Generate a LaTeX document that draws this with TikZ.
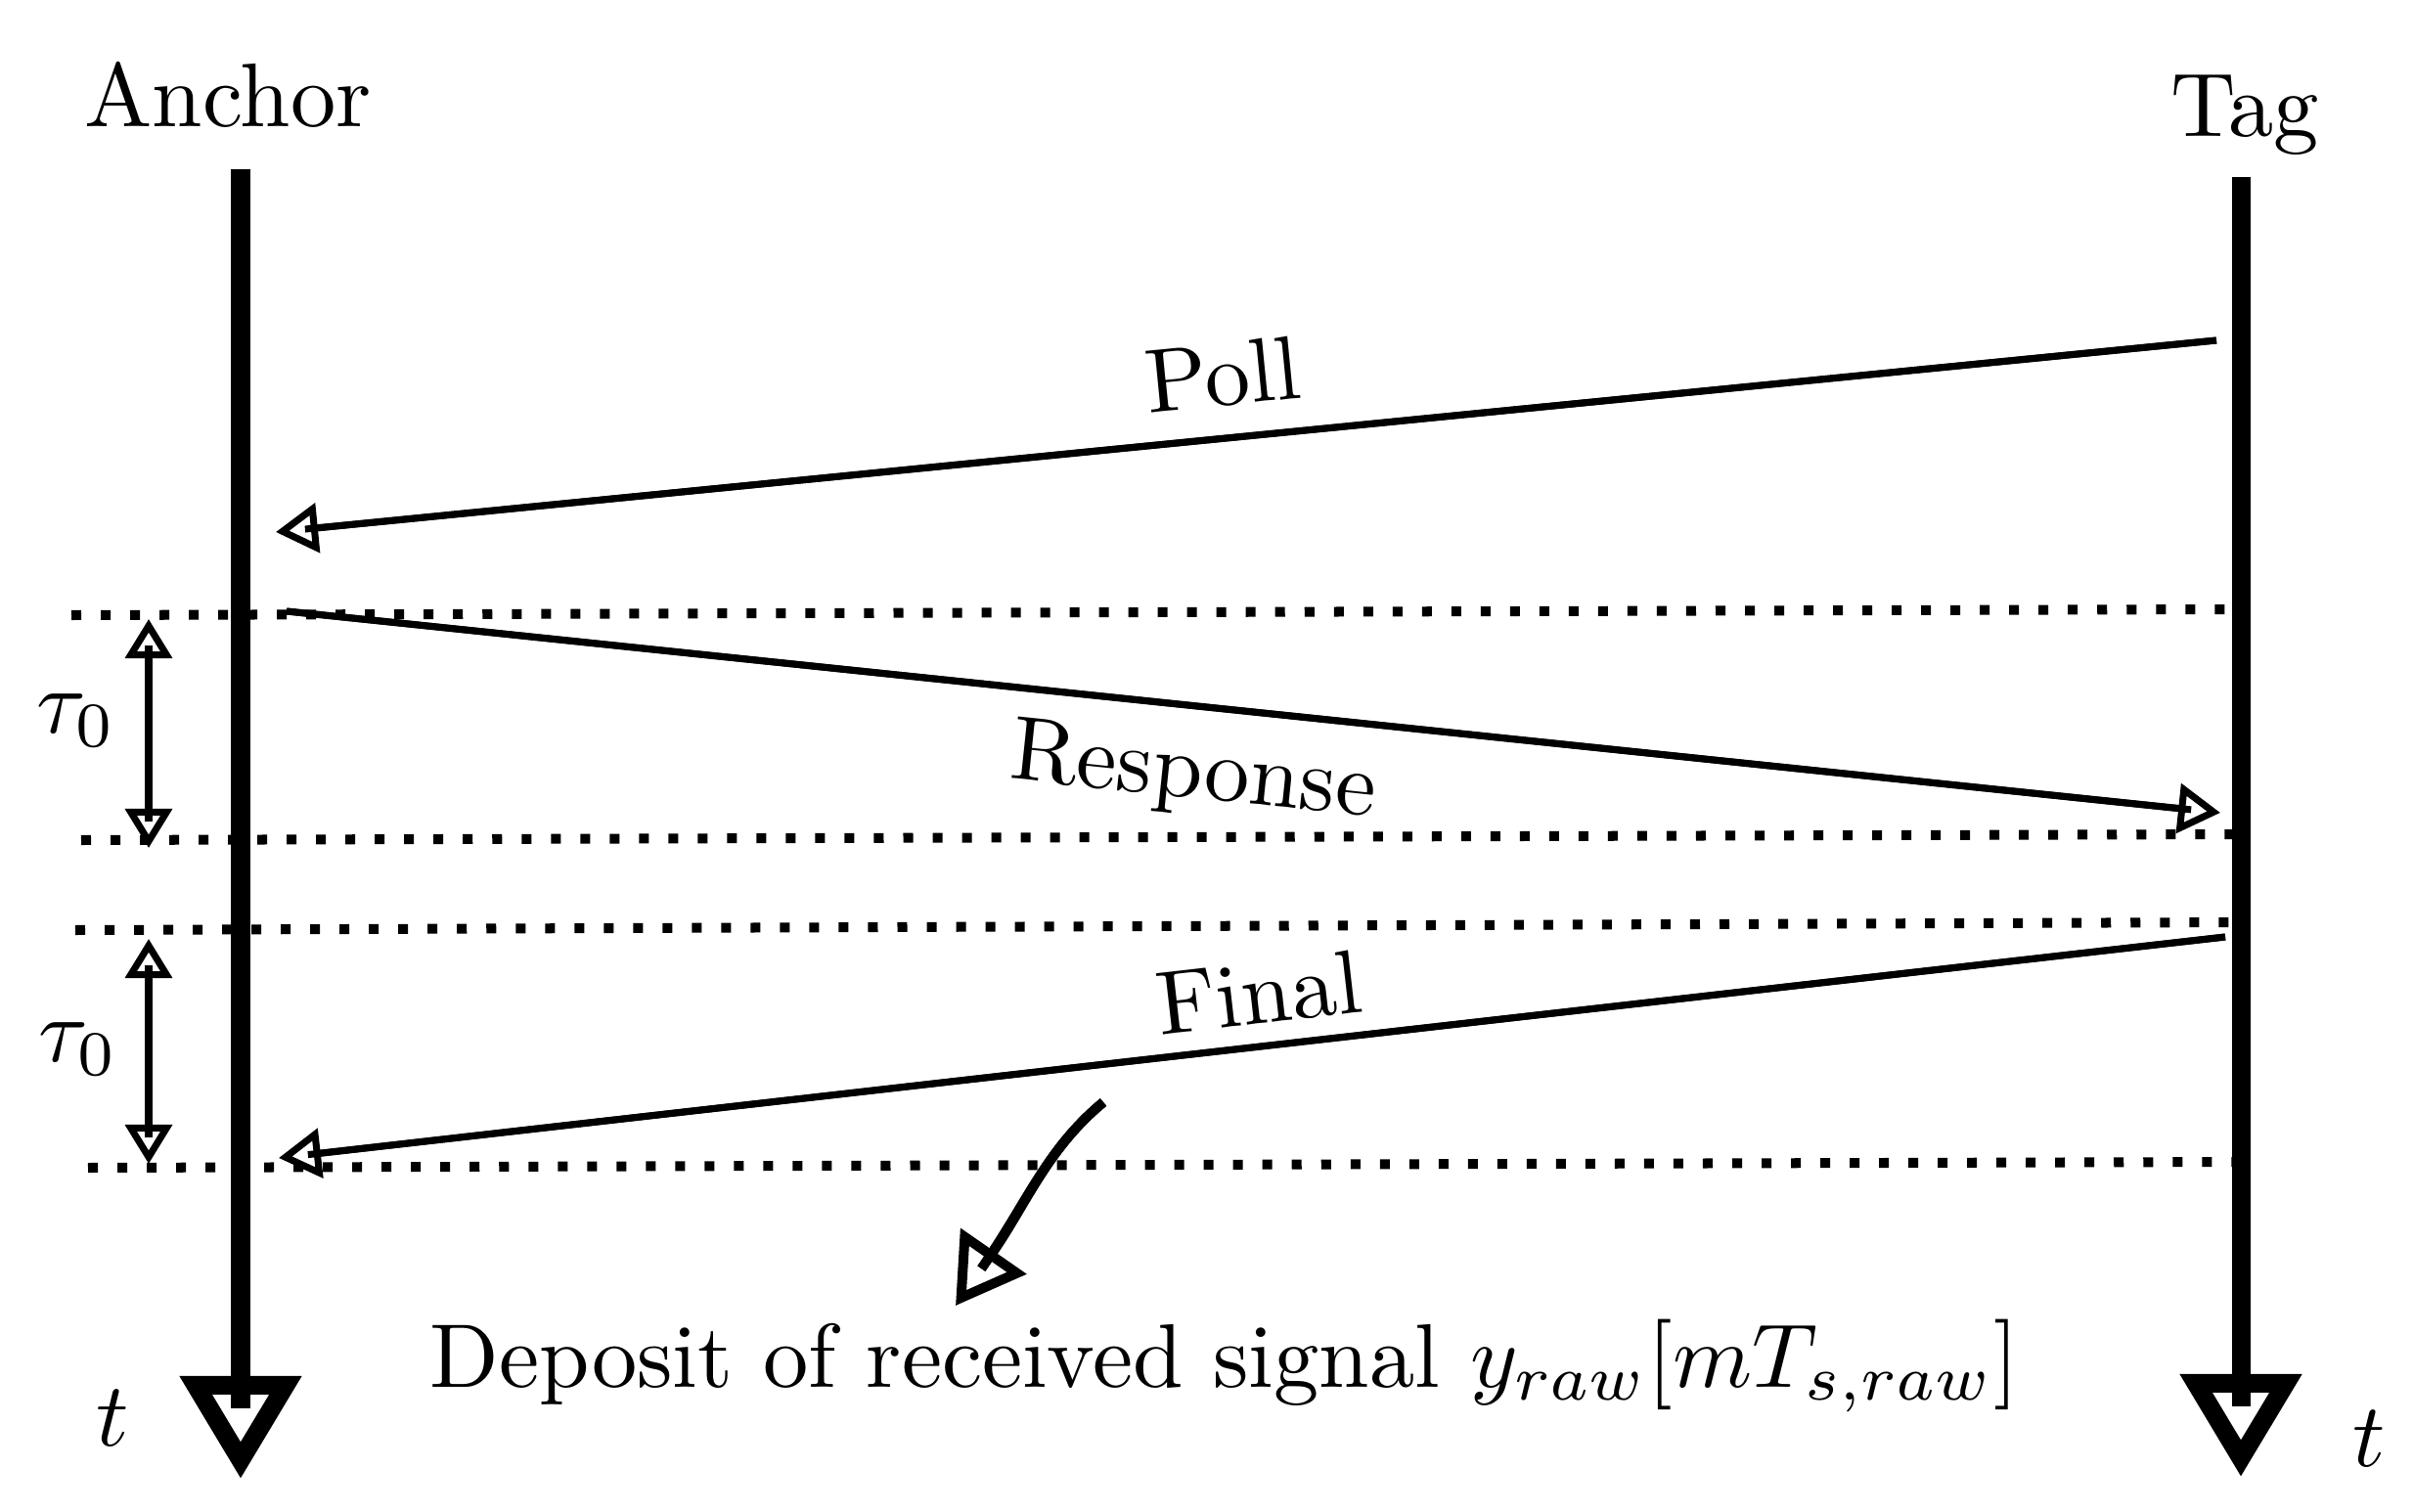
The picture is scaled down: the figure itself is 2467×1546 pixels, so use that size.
\documentclass[tikz,border=0pt]{standalone}
\usetikzlibrary{arrows.meta}
\begin{document}
\begin{tikzpicture}[x=0.01cm,y=-0.01cm,
  font=\normalsize,
  lifeline/.style={line width=0.19cm, -{Triangle[open,length=1.05cm,width=1.2cm]},
    postaction={draw,-,shorten >=0.72cm}},
  msg/.style={line width=0.07cm, -{Triangle[open,length=0.43cm,width=0.5cm]},
    postaction={draw,-,shorten >=0.3cm}},
  span/.style={line width=0.07cm, {Triangle[open,length=0.4cm,width=0.47cm]}-{Triangle[open,length=0.4cm,width=0.47cm]},
    postaction={draw,-,shorten >=0.27cm,shorten <=0.27cm}},
  note/.style={line width=0.1cm, -{Triangle[open,length=0.68cm,width=0.8cm]},
    postaction={draw,-,shorten >=0.46cm}},
  dotline/.style={line width=0.1cm, dash pattern=on 0.1cm off 0.2cm},
  lbl/.style={inner sep=0pt, scale=2.63}]
\useasboundingbox (0,0) rectangle (2467,1546);

% lifeline coordinates
\coordinate (aTop) at (246,173);
\coordinate (aEnd) at (246,1512);
\coordinate (tTop) at (2291,181);
\coordinate (tEnd) at (2291,1510);

% dotted reference lines
\coordinate (d1a) at (73,629);   \coordinate (d1b) at (2290,623);
\coordinate (d2a) at (83,859);   \coordinate (d2b) at (2290,853);
\coordinate (d3a) at (77,951);   \coordinate (d3b) at (2290,943);
\coordinate (d4a) at (90,1194);  \coordinate (d4b) at (2290,1188);
\draw[dotline] (d1a) -- (d1b);
\draw[dotline] (d2a) -- (d2b);
\draw[dotline] (d3a) -- (d3b);
\draw[dotline] (d4a) -- (d4b);

% lifelines
\draw[lifeline] (aTop) -- (aEnd);
\draw[lifeline] (tTop) -- (tEnd);

% labels
\node[lbl, anchor=base] (anchorlbl) at (233,130) {Anchor};
\node[lbl, anchor=base] (taglbl) at (2295,140) {Tag};
\node[lbl] (tl) at (115,1450) {$t$};
\node[lbl] (tr) at (2422,1471) {$t$};

% messages
\coordinate (pollS) at (2266,348);
\coordinate (pollE) at (282,544);
\coordinate (respS) at (293,625);
\coordinate (respE) at (2270,831);
\coordinate (finS) at (2275,958);
\coordinate (finE) at (285,1184);
\draw[msg] (pollS) -- (pollE);
\draw[msg] (respS) -- (respE);
\draw[msg] (finS) -- (finE);
\node[lbl, rotate=5.6] (poll) at (1250,383) {Poll};
\node[lbl, rotate=-6] (resp) at (1220,793) {Response};
\node[lbl, rotate=6.5] (final) at (1287,1015) {Final};

% tau spans
\coordinate (s1a) at (152,633); \coordinate (s1b) at (152,867);
\coordinate (s2a) at (152,960); \coordinate (s2b) at (152,1190);
\draw[span] (s1a) -- (s1b);
\draw[span] (s2a) -- (s2b);
\node[lbl] (tau1) at (78,737) {$\tau_0$};
\node[lbl] (tau2) at (80,1073) {$\tau_0$};

% deposit note
\coordinate (nS) at (1128,1127);
\coordinate (nE) at (977,1335);
\draw[note] (nS) .. controls (1070,1175) and (1050,1230) .. (nE);
\node[lbl, anchor=base] (dep) at (1252,1418) {Deposit of received signal $y_{raw}[mT_{s,raw}]$};
\end{tikzpicture}
\end{document}
